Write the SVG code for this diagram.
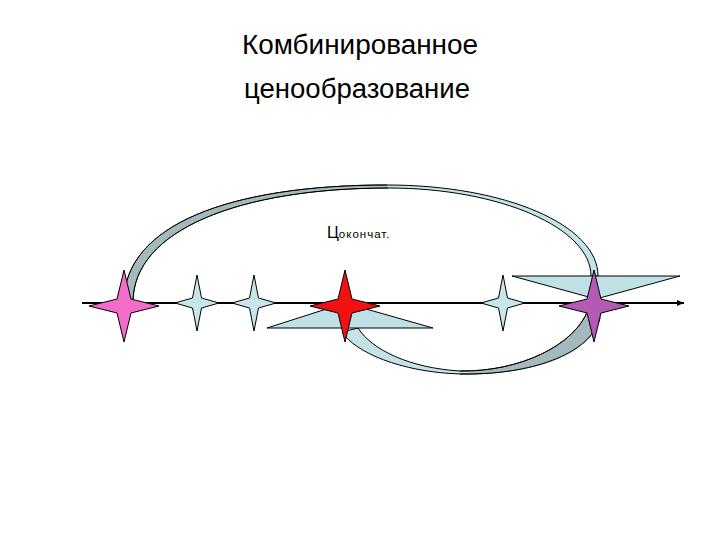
<svg xmlns="http://www.w3.org/2000/svg" xmlns:xlink="http://www.w3.org/1999/xlink" width="720" height="540" viewBox="0 0 720 540">
  <style>
    .title { font-family: "Liberation Sans", Arial, sans-serif; font-size: 27px; fill: #000; text-anchor: middle; }
    .lbl { font-family: "Liberation Sans", Arial, sans-serif; fill: #000; }
    .edge { stroke: #000; stroke-width: 1; stroke-linejoin: round; }
    .light { fill: #c3e3e7; }
    .dark { fill: #a3b9bc; }
    .head { fill: #bfe0e4; stroke: #000; stroke-width: 1; stroke-linejoin: round; }
    .star { stroke: #000; stroke-width: 1; stroke-linejoin: miter; }
  </style>
  <defs>
    <polygon id="bigStar" points="0,-36 7,-7 35,0 7,7 0,36 -7,7 -35,0 -7,-7"/>
    <polygon id="smallStar" points="0,-28 4.5,-5 22,0 4.5,5 0,28 -4.5,5 -22,0 -4.5,-5"/>
    <marker id="arr" markerWidth="8" markerHeight="8" refX="7" refY="4" orient="auto" markerUnits="userSpaceOnUse">
      <path d="M0,1 L7,4 L0,7 Z" fill="#000"/>
    </marker>
  </defs>

  <text class="title" x="360" y="54" textLength="236" lengthAdjust="spacingAndGlyphs">Комбинированное</text>
  <text class="title" x="357" y="98" textLength="226" lengthAdjust="spacingAndGlyphs">ценообразование</text>

  <g id="axis">
    <line x1="82" y1="303" x2="684" y2="303" stroke="#000" stroke-width="2" marker-end="url(#arr)"/>
  </g>

  <g id="connectors">
    <!-- upper curved arrow: pink -> purple -->
    <g id="upper-arrow">
      <path class="light edge" d="M124,302 C124,225 230,185 387,185 C505,185 598,225 598,276 L591,276 C591,228 500,188 388,188 C240,188 133,230 133,302 Z"/>
      <path class="dark" d="M124.5,302 C124.5,225 230,185.5 387,185.5 L388,187.5 C240,187.5 132.5,230 132.5,302 Z"/>
      <path fill="none" class="edge" d="M124,302 C124,225 230,185 387,185 M388,188 C240,188 133,230 133,302"/>
      <polygon class="head" points="512,276 680,276 596,299"/>
    </g>
    <!-- lower curved arrow: purple -> red -->
    <g id="lower-arrow">
      <path class="light edge" d="M342,332 C355,352 400,372 460,374 C530,375 590,355 600,318 L588,310 C575,345 520,372 460,371 C410,368 372,350 358,328 Z"/>
      <path class="dark" d="M470,373.5 C535,374.5 589.5,355 599.5,318.5 L588.5,310.5 C575,345 522,371.5 470,370.8 Z"/>
      <path fill="none" class="edge" d="M460,374 C530,375 590,355 600,318 M588,310 C575,345 520,372 460,371"/>
      <polygon class="head" points="267,328 433,328 345,303"/>
    </g>
  </g>

  <g id="node-pink"><use xlink:href="#bigStar" class="star" x="124" y="306" fill="#f26cc8"/></g>
  <g id="node-blue1"><use xlink:href="#smallStar" class="star" x="197" y="303" fill="#c6e6ea"/></g>
  <g id="node-blue2"><use xlink:href="#smallStar" class="star" x="254" y="303" fill="#c6e6ea"/></g>
  <g id="node-red"><use xlink:href="#bigStar" class="star" x="345" y="306" fill="#f01212"/></g>
  <g id="node-blue3"><use xlink:href="#smallStar" class="star" x="503" y="303" fill="#c6e6ea"/></g>
  <g id="node-purple"><use xlink:href="#bigStar" class="star" x="594" y="306" fill="#b35ab3"/></g>

  <g id="label">
    <text class="lbl" x="327" y="238" font-size="16">Ц<tspan font-size="11.5" letter-spacing="1">окончат.</tspan></text>
  </g>
</svg>
